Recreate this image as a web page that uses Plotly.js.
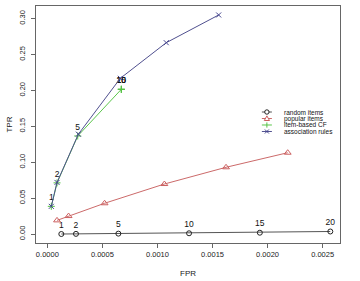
<!DOCTYPE html>
<html>
<head>
<meta charset="utf-8">
<script src="https://cdn.plot.ly/plotly-3.0.1.min.js"></script>
<style>html,body{margin:0;padding:0;background:#fff;}#chart{width:360px;height:281px;}</style>
</head>
<body>
<div id="chart"></div>
<script>
// number of recommendations (point labels)
const nLabels = ["1", "2", "5", "10", "15", "20"];

// random items
const randomFPR = [0.000127, 0.00026, 0.000645, 0.001287, 0.00193, 0.00257];
const randomTPR = [0.0000, 0.0002, 0.0005, 0.0010, 0.0018, 0.0035];

// popular items
const popularFPR = [0.000088, 0.000193, 0.00052, 0.001063, 0.001623, 0.002183];
const popularTPR = [0.019, 0.025, 0.0428, 0.0696, 0.0929, 0.1132];

// item-based CF
const ibcfFPR = [0.000036, 0.000088, 0.000276, 0.000672, 0.000672, 0.000672];
const ibcfTPR = [0.0385, 0.0712, 0.1365, 0.2015, 0.2015, 0.2015];

// association rules
const arFPR = [0.000036, 0.000088, 0.000282, 0.000663, 0.00108, 0.001556];
const arTPR = [0.0385, 0.0718, 0.139, 0.2168, 0.2664, 0.305];

const seriesNames = ["random items", "popular items", "item-based CF", "association rules"];
const seriesColors = ["#222222", "#cc6060", "#55c245", "#44448e"];
const lineColors = ["#555555", "#cc6a6a", "#5cc64c", "#50508f"];
const seriesSymbols = ["circle-open", "triangle-up-open", "cross-thin-open", "x-thin-open"];

const xTicks = [0, 0.0005, 0.0010, 0.0015, 0.0020, 0.0025];
const yTicks = [0, 0.05, 0.10, 0.15, 0.20, 0.25, 0.30];

const font = "Liberation Sans, Arial, sans-serif";

function mk(i, x, y, labels) {
  return {
    type: "scatter",
    mode: labels ? "lines+markers+text" : "lines+markers",
    x: x, y: y,
    name: seriesNames[i],
    text: labels || undefined,
    textposition: "top center",
    textfont: {family: font, size: 8.5, color: "#111"},
    line: {color: lineColors[i], width: 1},
    marker: {symbol: seriesSymbols[i], size: i === 1 ? 6 : 5, color: seriesColors[i], line: {width: 1, color: seriesColors[i]}},
    cliponaxis: false,
    showlegend: false
  };
}

const data = [
  mk(0, randomFPR, randomTPR, nLabels),
  mk(1, popularFPR, popularTPR, null),
  mk(2, ibcfFPR, ibcfTPR, nLabels),
  mk(3, arFPR, arTPR, null)
];

// manual compact legend (R style)
const shapes = [];
const annotations = [];
const legTop = 0.5527, legStep = 0.0274;
const lx0 = 0.743, lx1 = 0.776, lmx = 0.7595, ltx = 0.8125;
for (let i = 0; i < seriesNames.length; i++) {
  const yy = legTop - i * legStep;
  const c = seriesColors[i];
  shapes.push({type: "line", xref: "paper", yref: "paper", x0: lx0, x1: lx1, y0: yy, y1: yy, line: {color: lineColors[i], width: 1}});
  const base = {xref: "paper", yref: "paper", xsizemode: "pixel", ysizemode: "pixel", xanchor: lmx, yanchor: yy, line: {color: c, width: 1}};
  if (i === 0) {
    shapes.push(Object.assign({}, base, {type: "circle", x0: -2.2, x1: 2.2, y0: -2.2, y1: 2.2, fillcolor: "#fff"}));
  } else if (i === 1) {
    shapes.push(Object.assign({}, base, {type: "path", path: "M-2.6,-2 L2.6,-2 L0,2.6 Z", fillcolor: "#fff"}));
  } else if (i === 2) {
    shapes.push(Object.assign({}, base, {type: "path", path: "M0,-2.6 L0,2.6"}));
  } else {
    shapes.push(Object.assign({}, base, {type: "path", path: "M-2,-2 L2,2 M-2,2 L2,-2"}));
  }
  annotations.push({xref: "paper", yref: "paper", x: ltx, y: yy, xanchor: "left", yanchor: "middle",
    text: seriesNames[i], showarrow: false, borderpad: 0, font: {family: font, size: 6.5, color: "#111"}});
}

const layout = {
  width: 360, height: 281,
  margin: {l: 36, r: 20, t: 6, b: 38},
  paper_bgcolor: "#fff", plot_bgcolor: "#fff",
  showlegend: false,
  font: {family: font, size: 7.5, color: "#222"},
  xaxis: {
    range: [-0.000103, 0.002658],
    tickvals: xTicks, tickformat: ".4f",
    showgrid: false, zeroline: false,
    showline: true, mirror: true, linecolor: "#666", linewidth: 1,
    ticks: "outside", ticklen: 4, tickcolor: "#666",
    tickfont: {family: font, size: 7.5, color: "#222"},
    title: {text: "FPR", font: {family: font, size: 8, color: "#222"}, standoff: 12}
  },
  yaxis: {
    range: [-0.01253, 0.3175],
    tickvals: yTicks, tickformat: ".2f", tickangle: -90,
    ticklabelstandoff: 3,
    showgrid: false, zeroline: false,
    showline: true, mirror: true, linecolor: "#666", linewidth: 1,
    ticks: "outside", ticklen: 4, tickcolor: "#666",
    tickfont: {family: font, size: 7.5, color: "#222"},
    title: {text: "TPR", font: {family: font, size: 8, color: "#222"}, standoff: 4}
  },
  shapes: shapes,
  annotations: annotations
};

Plotly.newPlot("chart", data, layout, {displayModeBar: false, staticPlot: true});
</script>
</body>
</html>
